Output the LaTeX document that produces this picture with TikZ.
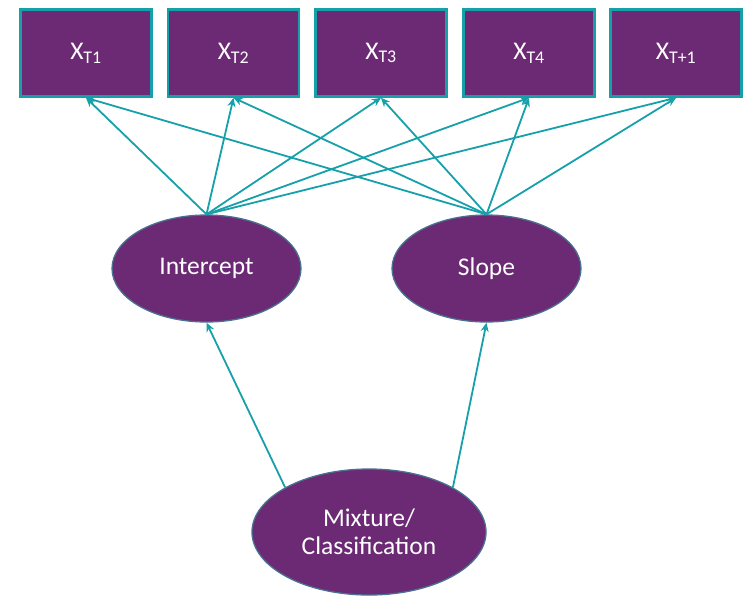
\documentclass[tikz,border=0pt]{standalone}
\usepackage{fontspec}
\setmainfont{Carlito}
\usetikzlibrary{shapes.geometric,arrows.meta}
\definecolor{plum}{HTML}{6B2A73}
\definecolor{tealline}{HTML}{16A0AA}
\definecolor{rimblue}{HTML}{4A7192}
\tikzset{
  obsbox/.style={rectangle, draw=tealline, line width=2.6pt, fill=plum,
    minimum width=131pt, minimum height=87pt, inner sep=0pt,
    text=white, font=\fontsize{25.5}{28}\selectfont},
  latent/.style={ellipse, draw=rimblue, line width=1.3pt, fill=plum,
    minimum width=189pt, minimum height=107pt, inner sep=0pt,
    text=white, font=\fontsize{25.5}{28}\selectfont, align=center},
  path/.style={draw=tealline, line width=1.8pt,
    -{Stealth[length=9pt,width=8pt]}}
}
\begin{document}
\begin{tikzpicture}[x=1pt,y=-1pt]
\useasboundingbox (0,0) rectangle (743,595);
% observed measures
\node[obsbox] (x1) at (86,53)  {X\textsubscript{T1}};
\node[obsbox] (x2) at (233.5,53) {X\textsubscript{T2}};
\node[obsbox] (x3) at (381,53) {X\textsubscript{T3}};
\node[obsbox] (x4) at (529,53) {X\textsubscript{T4}};
\node[obsbox] (x5) at (676,53) {X\textsubscript{T+1}};
% growth factors
\node[latent] (int) at (206.5,268.5) {Intercept};
\node[latent] (slp) at (486.5,268.5) {Slope};
% latent class variable
\node[latent, minimum width=234pt, minimum height=126pt] (mix) at (369,532)
  {Mixture/\\Classification};
% loadings
\foreach \b in {x1,x2,x3,x4,x5}{
  \draw[path] (int.north) -- (\b.south);
  \draw[path] (slp.north) -- (\b.south);
}
% class effects on growth factors
\draw[path] (mix.152) -- (int.south);
\draw[path] (mix.28) -- (slp.south);
\end{tikzpicture}
\end{document}
